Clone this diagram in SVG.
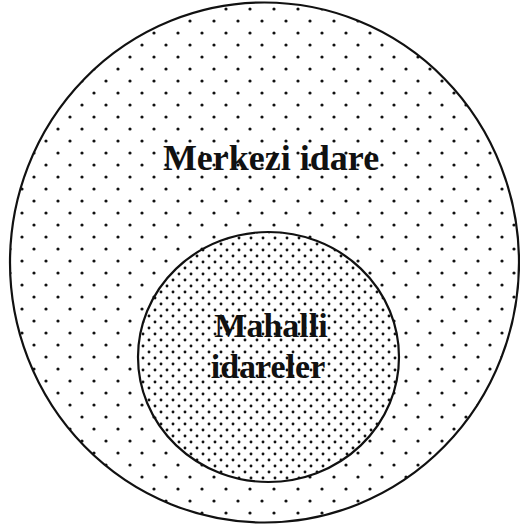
<svg xmlns="http://www.w3.org/2000/svg" width="520" height="527" viewBox="0 0 520 527">
<style>
.ring{stroke:#111;stroke-width:2.2}
.lbl{font-family:"Liberation Serif","Times New Roman",serif;font-weight:bold;font-size:34px;fill:#111;text-anchor:middle}
.big{font-size:36px}
</style>
<defs>
<pattern id="sparse" width="24" height="24" patternUnits="userSpaceOnUse" x="4" y="3">
<rect width="24" height="24" fill="#fff"/>
<circle cx="6" cy="6" r="1.6" fill="#111"/>
<circle cx="18" cy="18" r="1.6" fill="#111"/>
</pattern>
<pattern id="dense" width="12" height="12" patternUnits="userSpaceOnUse" x="2" y="1">
<rect width="12" height="12" fill="#fff"/>
<circle cx="3" cy="3" r="1.45" fill="#111"/>
<circle cx="9" cy="9" r="1.45" fill="#111"/>
</pattern>
</defs>
<rect width="520" height="527" fill="#fff"/>
<g id="merkezi">
<ellipse class="ring" cx="264.5" cy="262.5" rx="254.5" ry="260" fill="url(#sparse)"/>
<text class="lbl big" x="271" y="170">Merkezi idare</text>
</g>
<g id="mahalli">
<ellipse class="ring" cx="268.5" cy="357" rx="130.5" ry="125" fill="url(#dense)"/>
<text class="lbl" x="271" y="337">Mahalli</text>
<text class="lbl" x="268" y="378">idareler</text>
</g>
<g id="connectors"/>
</svg>
